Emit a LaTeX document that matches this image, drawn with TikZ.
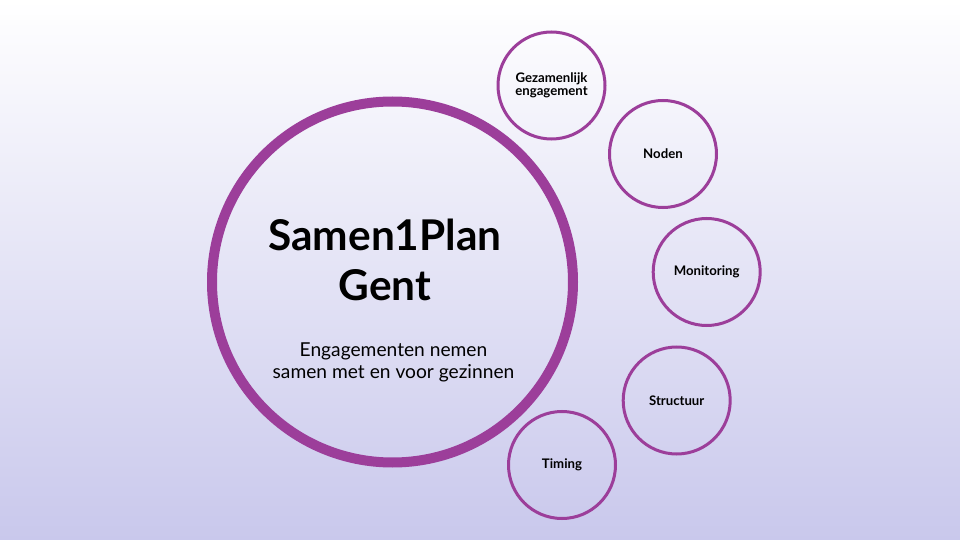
\documentclass[tikz,border=0pt]{standalone}
\usepackage{fontspec}
\setmainfont{Lato}
\usepackage{tikz}
\usetikzlibrary{positioning,backgrounds,calc}
\definecolor{plum}{HTML}{9C3E9A}
\definecolor{bgtop}{HTML}{FFFFFF}
\definecolor{bgbot}{HTML}{C9C8EC}
\tikzset{
  hub/.style={circle,draw=plum,line width=5pt,minimum size=180.5pt,inner sep=0pt},
  topic/.style={circle,draw=plum,line width=1.5pt,minimum size=53.5pt,inner sep=0pt,
                align=center,font=\fontsize{6.6}{6.4}\selectfont\bfseries},
  titletxt/.style={anchor=base,inner sep=0pt,font=\fontsize{21.2}{25}\selectfont\bfseries},
  subtxt/.style={anchor=base,inner sep=0pt,font=\fontsize{9.6}{11}\selectfont},
}

\begin{document}
\begin{tikzpicture}[x=0.5pt,y=-0.5pt]
  \shade[top color=bgtop,bottom color=bgbot] (0,0) rectangle (960,540);
  \useasboundingbox (0,0) rectangle (960,540);
  % central circle
  \node[hub] (hub) at (392.5,282) {};
  \node[titletxt] (title1) at (385,250) {Samen1Plan};
  \node[titletxt] (title2) at (385,300) {Gent};
  \node[subtxt] (sub1) at (393.5,357) {Engagementen nemen};
  \node[subtxt] (sub2) at (393.5,379) {samen met en voor gezinnen};
  % topic circles
  \node[topic] (engage) at (551.5,85.5) {Gezamenlijk\\engagement};
  \node[topic] (noden) at (663,154) {Noden};
  \node[topic] (monitor) at (706.7,272) {Monitoring};
  \node[topic] (struct) at (676.7,400.5) {Structuur};
  \node[topic] (timing) at (562,465) {Timing};
\end{tikzpicture}
\end{document}
